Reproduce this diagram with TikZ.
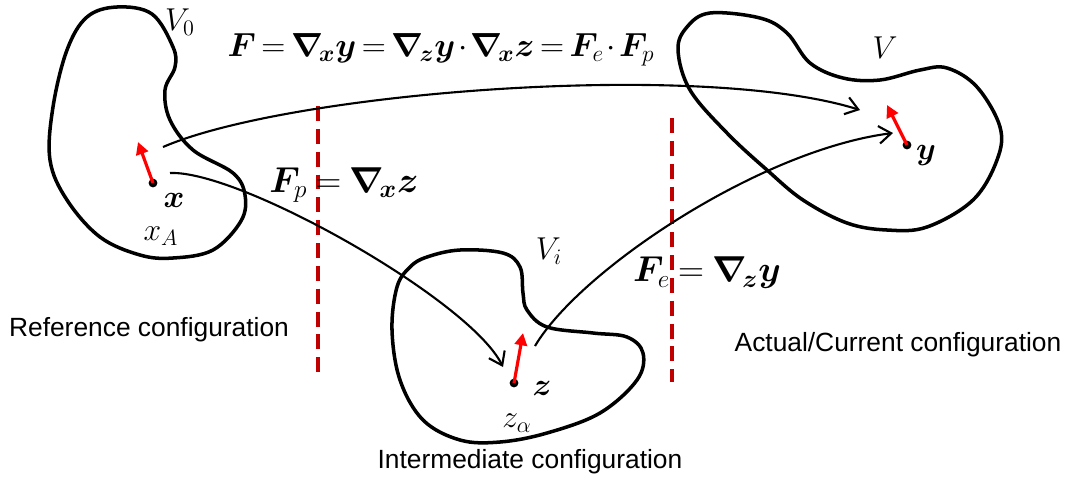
\RequirePackage{fix-cm}
\documentclass[tikz,border=0pt]{standalone}
\usepackage{amsmath,bm}
\usepackage[no-math]{fontspec}
\newfontfamily\arial{Liberation Sans}
\usetikzlibrary{arrows.meta}
\definecolor{dred}{RGB}{192,0,0}
\newcommand{\tightmath}{\thickmuskip=4mu \medmuskip=2.5mu\relax}
\newcommand{\tightermath}{\thickmuskip=3mu \medmuskip=1.5mu\relax}

\tikzset{
	blob/.style={line width=2pt, line join=round},
	map/.style={line width=1.2pt, -{Straight Barb[length=7pt,width=10pt]}},
	vec/.style={red, line width=1.8pt, -{Triangle[length=7pt,width=7pt]}},
	dot/.style={circle, fill, inner sep=0pt, minimum size=5pt},
	sep/.style={dred, line width=2pt, dash pattern=on 8.5pt off 4.5pt},
	lbl/.style={font=\fontsize{18}{21}\selectfont, inner sep=0pt},
	eqn/.style={font=\fontsize{20.5}{24}\selectfont, execute at begin node=\tightmath, inner sep=0pt},
	longeqn/.style={font=\fontsize{19}{22}\selectfont, execute at begin node=\tightermath, inner sep=0pt},
	cfg/.style={font=\arial\fontsize{15}{18}\selectfont, inner sep=0pt},
}

\begin{document}
\begin{tikzpicture}[x=0.02cm, y=-0.02cm]
	\useasboundingbox (0,0) rectangle (1068,481);
	% reference body
	\draw[blob] plot [smooth cycle, tension=0.6] coordinates{(117,7) (152,14) (173,47) (175,67) (165,90) (170,120) (193,150) (233,173) (245,195) (241,221) (213,250) (173,258) (140,255) (100,237) (67,200) (50,160) (53,107) (67,50) (87,17)};
	% intermediate body
	\draw[blob] plot [smooth cycle, tension=0.6] coordinates{(427,257) (460,250) (503,253) (520,267) (523,293) (527,310) (547,327) (593,333) (627,337) (643,353) (637,380) (600,413) (547,433) (500,442) (460,440) (423,420) (400,380) (392,330) (397,287) (410,267)};
	% current body
	\draw[blob] plot [smooth cycle, tension=0.6] coordinates{(710,13) (760,18) (787,33) (810,63) (843,78) (880,80) (920,70) (947,68) (977,87) (1000,127) (997,160) (973,200) (927,227) (887,230) (847,223) (803,200) (767,170) (727,133) (690,90) (678,50) (687,27)};

	% separators
	\draw[sep] (318,106) -- (318,376);
	\draw[sep] (672,118) -- (672,382);

	% material points
	\node[dot] (x) at (153,183) {};
	\node[dot] (z) at (514,383) {};
	\node[dot] (y) at (907,145) {};
	\coordinate (xv) at (138,142);
	\coordinate (zv) at (523,333);
	\coordinate (yv) at (887,105);
	\draw[vec] (x.center) -- (xv);
	\draw[vec] (z.center) -- (zv);
	\draw[vec] (y.center) -- (yv);

	% mappings
	\coordinate (x1) at (163,147);
	\coordinate (x2) at (170,173);
	\coordinate (z1) at (503,367);
	\coordinate (z2) at (535,346);
	\coordinate (y1) at (860,110);
	\coordinate (y2) at (893,133);
	\draw[map] (x1) .. controls (290,92) and (700,60) .. (y1);
	\draw[map] (x2) .. controls (240,170) and (470,300) .. (z1);
	\draw[map] (z2) .. controls (580,270) and (760,150) .. (y2);

	% labels
	\node[lbl] (xl) at (174,200) {$\bm{x}$};
	\node[lbl] (zl) at (542,388) {$\bm{z}$};
	\node[lbl] (yl) at (926,156) {$\bm{y}$};
	\node[lbl] (xa) at (161,236) {$x_A$};
	\node[lbl] (za) at (517,423) {$z_\alpha$};
	\node[lbl] (V0) at (180,22) {$V_0$};
	\node[lbl] (Vi) at (549,251) {$V_i$};
	\node[lbl] (V) at (885,48) {$V$};
	\node[longeqn] (F) at (441,50) {$\bm{F}=\bm{\nabla}_{\!\bm{x}}\bm{y}=\bm{\nabla}_{\!\bm{z}}\bm{y}\cdot\bm{\nabla}_{\!\bm{x}}\bm{z}=\bm{F}_e\cdot\bm{F}_p$};
	\node[eqn] (Fp) at (344,185) {$\bm{F}_p=\bm{\nabla}_{\!\bm{x}}\bm{z}$};
	\node[eqn] (Fe) at (707,273) {$\bm{F}_e=\bm{\nabla}_{\!\bm{z}}\bm{y}$};
	\node[cfg] (ref) at (149,330) {Reference configuration};
	\node[cfg] (int) at (530,462) {Intermediate configuration};
	\node[cfg] (cur) at (898,345) {Actual/Current configuration};
\end{tikzpicture}
\end{document}
